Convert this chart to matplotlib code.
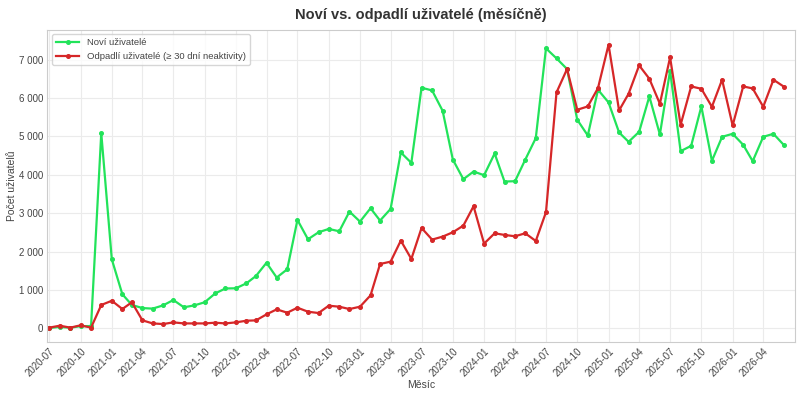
import pandas as pd
import numpy as np
import matplotlib
matplotlib.use('Agg')
from matplotlib import pyplot as plt
import matplotlib.dates as mdates
from matplotlib.ticker import FuncFormatter

# months 2020-07 .. 2026-06
months = pd.date_range('2020-07-01', '2026-06-01', freq='MS')
tick_months = pd.date_range('2020-07-01', '2026-04-01', freq='3MS')

new_users = [
    10, 40, 15, 60, 60, 5090, 1800, 890, 610, 530, 515, 600,
    740, 550, 600, 680, 910, 1040, 1045, 1175, 1365, 1710, 1325, 1540,
    2826, 2322, 2504, 2591, 2530, 3043, 2783, 3130, 2809, 3113, 4583, 4313,
    6270, 6200, 5670, 4400, 3887, 4087, 3991, 4557, 3826, 3835, 4395, 4957,
    7296, 7035, 6757, 5435, 5026, 6217, 5887, 5104, 4861, 5122, 6043, 5052,
    6713, 4617, 4757, 5783, 4365, 4991, 5070, 4783, 4357, 4991, 5070, 4774,
]
churned_users = [
    20, 70, 20, 80, 20, 610, 720, 505, 680, 210, 130, 113,
    157, 130, 130, 130, 148, 130, 157, 200, 209, 365, 496, 409,
    539, 435, 400, 591, 565, 504, 565, 861, 1678, 1739, 2287, 1809,
    2617, 2313, 2391, 2504, 2678, 3183, 2209, 2478, 2435, 2400, 2478, 2278,
    3026, 6148, 6757, 5696, 5783, 6261, 7391, 5678, 6113, 6852, 6504, 5852,
    7061, 5304, 6304, 6243, 5774, 6478, 5287, 6304, 6252, 5774, 6478, 6296,
]

plt.rcParams['font.family'] = ['Liberation Sans', 'DejaVu Sans']

fig, ax = plt.subplots(figsize=(8, 3.97), dpi=100)
fig.subplots_adjust(left=0.059, right=0.994, top=0.925, bottom=0.138)

ax.plot(months, new_users, color='#22e35a', lw=1.6, marker='o', ms=2.6,
        label='Noví uživatelé')
ax.plot(months, churned_users, color='#d62728', lw=1.6, marker='o', ms=2.6,
        label='Odpadlí uživatelé (≥ 30 dní neaktivity)')

ax.set_xlim(pd.Timestamp('2020-06-25'), pd.Timestamp('2026-07-04'))
ax.set_ylim(-360, 7780)

ax.set_xticks(tick_months)
ax.xaxis.set_major_formatter(mdates.DateFormatter('%Y-%m'))
ax.yaxis.set_major_formatter(FuncFormatter(lambda v, p: f'{int(v):,}'.replace(',', ' ')))
plt.setp(ax.get_xticklabels(), rotation=45, ha='right', rotation_mode='anchor')

ax.tick_params(axis='both', labelsize=7, colors='#444444', length=0, pad=3)
ax.grid(True, color='#ebebeb', lw=0.8)
for s in ax.spines.values():
    s.set_color('#cccccc')

ax.set_title('Noví vs. odpadlí uživatelé (měsíčně)', fontsize=10.5, fontweight='bold',
             color='#333333', pad=8)
ax.set_xlabel('Měsíc', fontsize=7.5, color='#444444', labelpad=1)
ax.set_ylabel('Počet uživatelů', fontsize=7.5, color='#444444', labelpad=1)
ax.legend(loc='upper left', fontsize=6.8, frameon=True, edgecolor='#cccccc',
          borderpad=0.4, handlelength=2.5, labelcolor='#444444')

fig.savefig('out.png', dpi=100)
